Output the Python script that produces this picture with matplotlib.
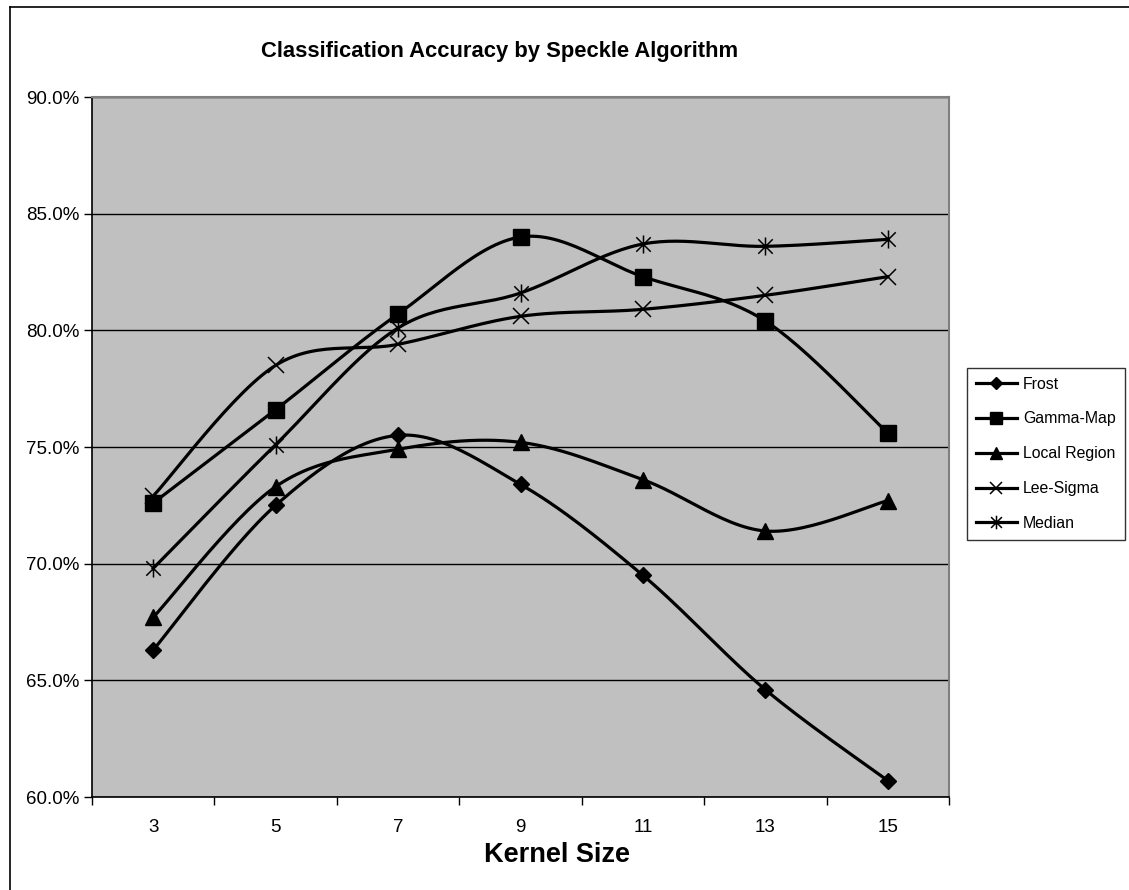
import numpy as np
import matplotlib.pyplot as plt
from matplotlib.lines import Line2D
from matplotlib.path import Path

plt.rcParams['font.family'] = ['Liberation Sans', 'DejaVu Sans']

kernel_sizes = [3, 5, 7, 9, 11, 13, 15]
frost = [66.3, 72.5, 75.5, 73.4, 69.5, 64.6, 60.7]
gamma_map = [72.6, 76.6, 80.7, 84.0, 82.3, 80.4, 75.6]
local_region = [67.7, 73.3, 74.9, 75.2, 73.6, 71.4, 72.7]
lee_sigma = [72.9, 78.5, 79.4, 80.6, 80.9, 81.5, 82.3]
median = [69.8, 75.1, 80.1, 81.6, 83.7, 83.6, 83.9]
y_ticks = [60, 65, 70, 75, 80, 85, 90]

# asterisk marker (x plus vertical bar) like the excel one
star = Path([(-1, -1), (1, 1), (-1, 1), (1, -1), (0, -1.25), (0, 1.25)],
            [Path.MOVETO, Path.LINETO, Path.MOVETO, Path.LINETO, Path.MOVETO, Path.LINETO])

series = [
    ("Frost", frost, dict(marker="D", markersize=8.5)),
    ("Gamma-Map", gamma_map, dict(marker="s", markersize=12)),
    ("Local Region", local_region, dict(marker="^", markersize=12)),
    ("Lee-Sigma", lee_sigma, dict(marker="x", markersize=11, markeredgewidth=1.1)),
    ("Median", median, dict(marker=star, markersize=13, markeredgewidth=1.1)),
]


def smooth(x, y, n=30):
    # excel style smoothed line: cubic bezier through the points
    x = np.asarray(x, float)
    y = np.asarray(y, float)
    px = np.concatenate([[x[0]], x, [x[-1]]])
    py = np.concatenate([[y[0]], y, [y[-1]]])
    xs, ys = [], []
    t = np.linspace(0, 1, n)
    for i in range(1, len(px) - 2):
        p0 = np.array([px[i], py[i]])
        p3 = np.array([px[i + 1], py[i + 1]])
        p1 = p0 + (np.array([px[i + 1], py[i + 1]]) - np.array([px[i - 1], py[i - 1]])) / 6
        p2 = p3 - (np.array([px[i + 2], py[i + 2]]) - np.array([px[i], py[i]])) / 6
        b = ((1 - t) ** 3)[:, None] * p0 + (3 * (1 - t) ** 2 * t)[:, None] * p1 \
            + (3 * (1 - t) * t ** 2)[:, None] * p2 + (t ** 3)[:, None] * p3
        xs.append(b[:, 0])
        ys.append(b[:, 1])
    return np.concatenate(xs), np.concatenate(ys)


fig = plt.figure(figsize=(11.29, 8.90), dpi=100)
ax = fig.add_axes([92 / 1129, 1 - 797 / 890, (949 - 92) / 1129, (797 - 97) / 890])
ax.set_facecolor("#c0c0c0")

xpos = np.arange(len(kernel_sizes))
handles = []
for name, vals, mk in series:
    sx, sy = smooth(xpos, vals)
    ax.plot(sx, sy, color="black", lw=2.3, zorder=3)
    ax.plot(xpos, vals, ls="none", color="black", markerfacecolor="black",
            markeredgecolor="black", zorder=4, clip_on=False, **mk)
    handles.append(Line2D([0], [0], color="black", lw=2.3, markerfacecolor="black",
                          markeredgecolor="black", label=name, **mk))

ax.set_xlim(-0.5, len(kernel_sizes) - 0.5)
ax.set_ylim(60, 90)
ax.set_yticks(y_ticks)
ax.set_yticklabels([f"{v:.1f}%" for v in y_ticks], fontsize=13.5)
ax.set_xticks(np.arange(-0.5, len(kernel_sizes)), labels=[])
ax.set_xticks(xpos, labels=[str(k) for k in kernel_sizes], minor=True, fontsize=13.5)
ax.tick_params(axis="x", which="minor", length=0, pad=16)
ax.tick_params(axis="x", which="major", length=6, width=1, direction="out")
ax.tick_params(axis="y", length=6, width=1, direction="out", pad=3)
ax.grid(axis="y", color="black", lw=1)
ax.set_axisbelow(True)
for s in ["left", "bottom"]:
    ax.spines[s].set_color("black")
    ax.spines[s].set_linewidth(1.2)
for s in ["top", "right"]:
    ax.spines[s].set_color("#808080")
    ax.spines[s].set_linewidth(1.5)

fig.text(500 / 1129, 1 - 51 / 890, "Classification Accuracy by Speckle Algorithm",
         ha="center", va="center", fontsize=15.8, fontweight="bold")
fig.text(557 / 1129, 1 - 855 / 890, "Kernel Size", ha="center", va="center",
         fontsize=19.5, fontweight="bold")

leg = fig.legend(handles=handles, loc="upper left", bbox_to_anchor=(967 / 1129, 1 - 368 / 890),
                 frameon=True, fancybox=False, fontsize=11.4, handlelength=2.6,
                 labelspacing=1.25, borderpad=0.55, handletextpad=0.4, borderaxespad=0,
                 markerscale=0.75)
leg.get_frame().set_edgecolor("black")
leg.get_frame().set_linewidth(1.0)

# outer chart border (left and top edges only visible)
fig.add_artist(Line2D([9.5 / 1129, 9.5 / 1129], [0, 1 - 6.5 / 890], color="black", lw=1.2,
                      transform=fig.transFigure))
fig.add_artist(Line2D([9.5 / 1129, 1], [1 - 6.5 / 890, 1 - 6.5 / 890], color="black", lw=1.2,
                      transform=fig.transFigure))

fig.savefig("out.png", dpi=100)
